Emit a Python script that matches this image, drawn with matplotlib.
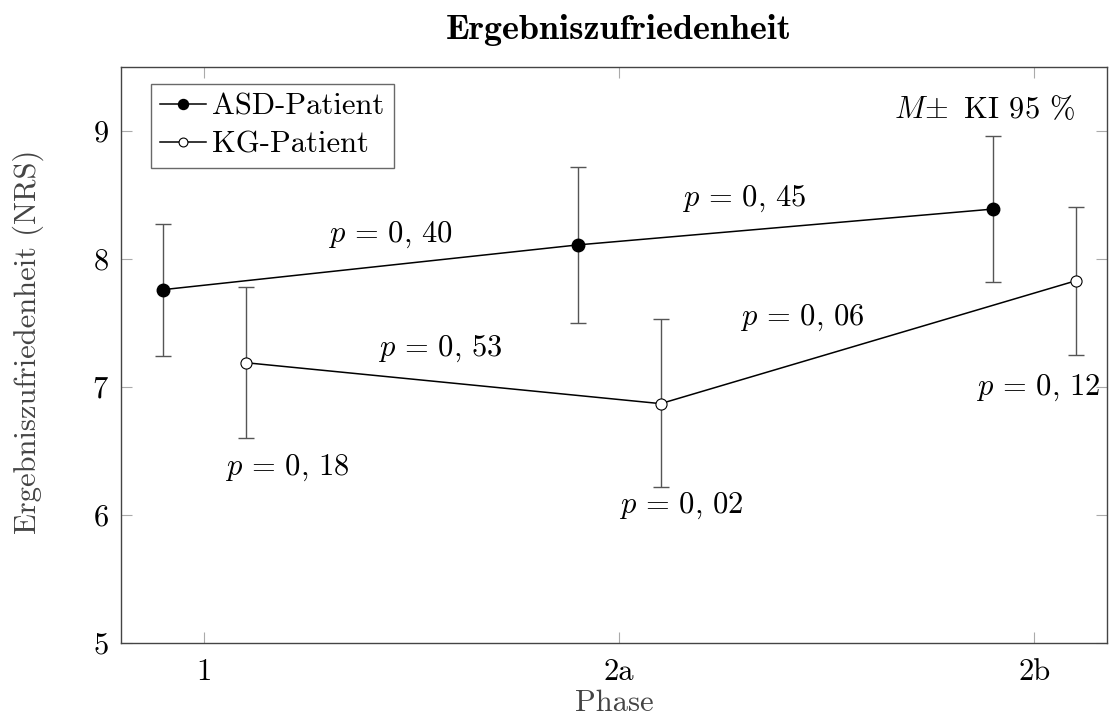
import matplotlib
matplotlib.use("Agg")
import matplotlib.pyplot as plt
import numpy as np

plt.rcParams['font.family'] = 'serif'
plt.rcParams['font.serif'] = ['cmr10']
plt.rcParams['mathtext.fontset'] = 'cm'
plt.rcParams['axes.formatter.use_mathtext'] = True

phases = ["1", "2a", "2b"]
phase_pos = [1, 2, 3]

asd_x = [0.9, 1.9, 2.9]
asd_mean = [7.76, 8.11, 8.39]
asd_low = [7.24, 7.50, 7.82]
asd_high = [8.27, 8.72, 8.96]

kg_x = [1.1, 2.1, 3.1]
kg_mean = [7.19, 6.87, 7.83]
kg_low = [6.60, 6.22, 7.25]
kg_high = [7.78, 7.53, 8.41]

pvals = ["0,40", "0,45", "0,53", "0,06", "0,18", "0,02", "0,12"]
p_x = [1.45, 2.3, 1.57, 2.44, 1.2, 2.15, 3.01]
p_y = [8.19, 8.47, 7.3, 7.54, 6.37, 6.07, 6.99]

FS = 22

fig = plt.figure(figsize=(11.11, 7.22), dpi=100)
ax = fig.add_axes([121/1111, 1 - 643/722, (1107-121)/1111, (643-67)/722])

asd = np.array(asd_mean)
kg = np.array(kg_mean)
err_color = '#555555'
ax.errorbar(asd_x, asd, yerr=[asd - np.array(asd_low), np.array(asd_high) - asd],
            fmt='none', ecolor=err_color, elinewidth=1.0, capsize=6, capthick=1.0, zorder=2)
ax.errorbar(kg_x, kg, yerr=[kg - np.array(kg_low), np.array(kg_high) - kg],
            fmt='none', ecolor=err_color, elinewidth=1.0, capsize=6, capthick=1.0, zorder=2)
ax.plot(asd_x, asd, '-', color='black', lw=1.1, marker='o', ms=9,
        markerfacecolor='black', markeredgecolor='black', label='ASD-Patient', zorder=3)
ax.plot(kg_x, kg, '-', color='black', lw=1.1, marker='o', ms=8,
        markerfacecolor='white', markeredgecolor='black', markeredgewidth=0.8,
        label='KG-Patient', zorder=3)

for px, py, pv in zip(p_x, p_y, pvals):
    ax.text(px, py, r'$p\,=\,' + pv.replace(',', ',\\,') + '$', fontsize=FS,
            ha='center', va='center')

ax.text(2.88, 9.17, r'$M\!\pm$ KI 95 %', fontsize=FS, ha='center', va='center')

ax.set_xlim(0.8, 3.175)
ax.set_ylim(5, 9.5)
ax.set_xticks(phase_pos)
ax.set_xticklabels(phases)
ax.set_yticks([5, 6, 7, 8, 9])
ax.tick_params(direction='in', length=8, width=0.8, color='#aaaaaa',
               labelsize=FS, top=True, right=True)
ax.tick_params(axis='x', pad=11)
ax.tick_params(axis='y', pad=9)
for s in ax.spines.values():
    s.set_color('#444444')
    s.set_linewidth(1.0)

ax.set_xlabel('Phase', fontsize=FS, color='#444444', labelpad=3)
fig.text(28/1111, 1 - 342/722, 'Ergebniszufriedenheit (NRS)', fontsize=FS,
         color='#444444', rotation=90, ha='center', va='center')
fig.text((121+1107)/2/1111 + 0.004, 1 - 30/722, 'Ergebniszufriedenheit', fontsize=26,
         fontfamily='cmb10', ha='center', va='center')

leg = ax.legend(loc='upper left', bbox_to_anchor=(30/986, 1 - 17/576), borderaxespad=0,
                fontsize=FS, frameon=True, fancybox=False,
                edgecolor='#444444', handlelength=1.5, handletextpad=0.2,
                borderpad=0.3, labelspacing=0.35, markerscale=0.8)
leg.get_frame().set_linewidth(1.0)

fig.savefig('out.png', dpi=100)
